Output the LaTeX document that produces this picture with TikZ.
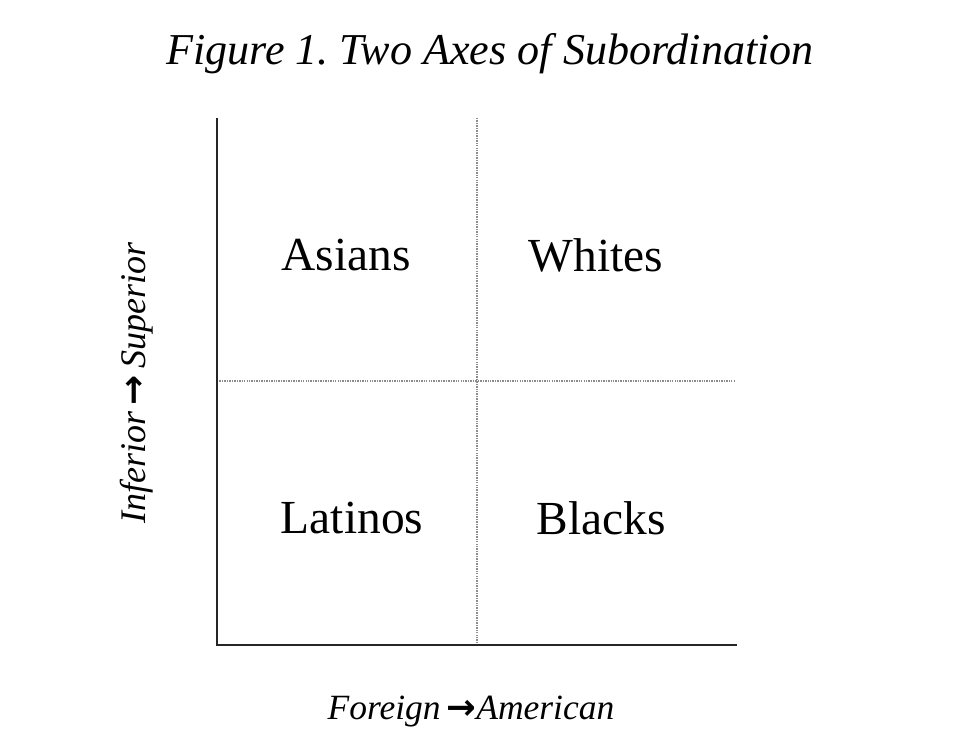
\documentclass[tikz,border=0pt]{standalone}
\usepackage{fontspec}
\setmainfont{Liberation Serif}
\newfontfamily\arrowfont{DejaVu Sans}
\newcommand{\myarrow}{{\arrowfont\upshape\bfseries\char"2192}}
\frenchspacing
\begin{document}
\begin{tikzpicture}[x=0.02cm,y=-0.02cm,
  lbl/.style={font=\fontsize{27}{32}\selectfont, inner sep=0pt},
  ital/.style={font=\fontsize{20.5}{25}\selectfont\itshape, inner sep=0pt},
  axis/.style={line width=1.2pt, black!85},
  grid/.style={line width=0.6pt, black!45, dash pattern=on 0.8pt off 0.6pt}]
\useasboundingbox (0,0) rectangle (980,755);
\fill[white] (0,0) rectangle (980,755);
\coordinate (tl) at (217,118);
\coordinate (o) at (217,645);
\coordinate (br) at (737,645);
\coordinate (vt) at (477,118);
\coordinate (vb) at (477,645);
\coordinate (hl) at (217,381);
\coordinate (hr) at (735,381);
\draw[grid] (vt) -- (vb);
\draw[grid] (hl) -- (hr);
\draw[axis] (tl) -- (o) -- (br);
\node[inner sep=0pt, font=\fontsize{25.1}{30}\selectfont\itshape] (title) at (490,54) {Figure 1. Two Axes of Subordination};
\node[lbl] (asians) at (346,255) {Asians};
\node[lbl] (whites) at (596,255) {Whites};
\node[lbl] (latinos) at (352,518) {Latinos};
\node[lbl] (blacks) at (601,518) {Blacks};
\node[ital, rotate=90] (ylab) at (137,383) {Inferior\,\myarrow\,Superior};
\node[ital, font=\fontsize{20.2}{24}\selectfont\itshape] (xlab) at (471,712) {Foreign\,\myarrow American};
\end{tikzpicture}
\end{document}
